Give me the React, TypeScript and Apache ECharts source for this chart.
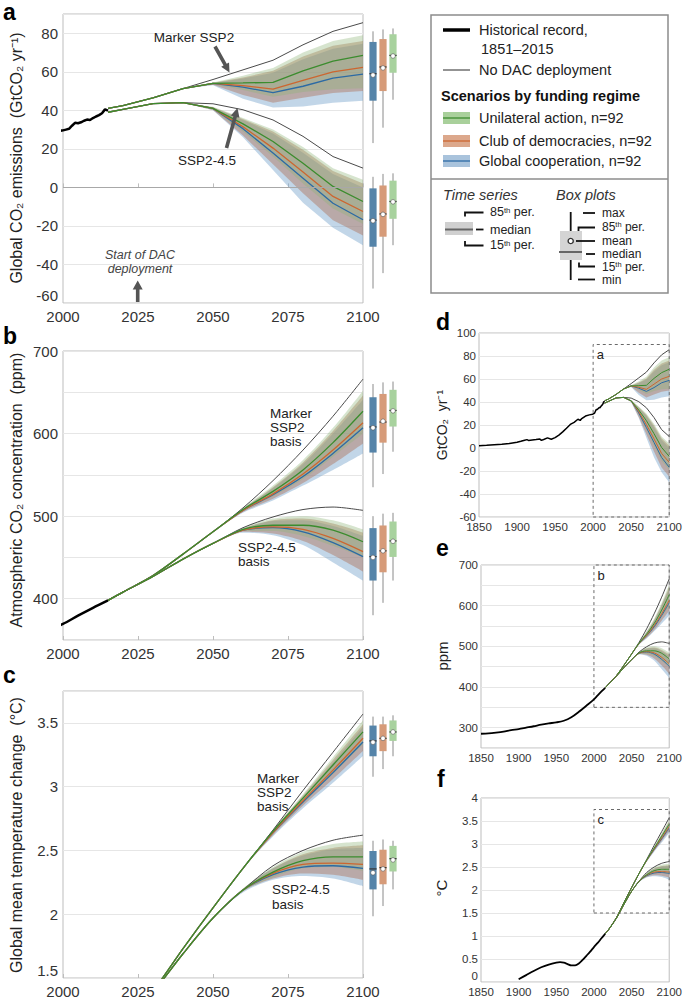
import React, { useEffect, useRef } from 'react';
import * as echarts from 'echarts';

const FONT = '"Liberation Sans", Arial, Helvetica, sans-serif';

// ---------- historical records ----------
const HIST_EM_YEARS = [1850, 1860, 1870, 1880, 1890, 1900, 1905, 1910, 1913, 1915, 1920, 1925, 1930, 1932, 1935, 1940, 1945, 1950, 1955, 1960, 1965, 1970, 1975, 1980, 1983, 1985, 1990, 1995, 1999, 2000, 2001, 2002, 2003, 2004, 2005, 2006, 2007, 2008, 2009, 2010, 2011, 2012, 2013, 2014, 2015];
const HIST_EM = [2.0, 2.3, 2.8, 3.3, 4.0, 5.0, 5.8, 6.8, 7.3, 6.6, 7.0, 7.3, 7.8, 6.6, 7.4, 8.8, 7.6, 9.0, 11.2, 14.0, 17.2, 20.5, 22.3, 25.0, 24.0, 25.6, 27.8, 28.8, 29.4, 29.6, 30.0, 30.4, 32.0, 33.5, 33.3, 33.8, 34.6, 35.2, 35.0, 36.0, 36.8, 37.5, 38.5, 40.5, 39.8];
const HIST_CO2_YEARS = [1850, 1860, 1870, 1880, 1890, 1900, 1910, 1920, 1930, 1940, 1950, 1960, 1970, 1980, 1990, 2000, 2005, 2010, 2015];
const HIST_CO2 = [285, 286, 288, 290.5, 294, 296.5, 300, 303.5, 307.5, 310.5, 313, 317, 325.5, 339, 354, 369.5, 379.5, 389, 398];
const HIST_T_YEARS = [1900, 1910, 1920, 1930, 1940, 1950, 1955, 1960, 1965, 1970, 1975, 1980, 1985, 1990, 1995, 2000, 2005, 2010, 2015];
const HIST_T = [0.06, 0.15, 0.24, 0.32, 0.38, 0.42, 0.43, 0.42, 0.39, 0.36, 0.36, 0.4, 0.48, 0.57, 0.66, 0.76, 0.85, 0.95, 1.05];

// ---------- projections ----------
const PROJ_YEARS = [2015, 2020, 2030, 2040, 2050, 2060, 2070, 2080, 2090, 2100];

// emissions (GtCO2/yr): UP = Marker SSP2, DN = SSP2-4.5
const A_UP_NODAC = [41, 42.5, 46.5, 51.3, 56, 61, 66, 74, 81, 85.5];
const A_DN_NODAC = [39, 40.5, 43.5, 44, 43.4, 40.3, 35, 26.5, 16, 10];
const A_UP_BLUE = [41, 42.5, 46.5, 51.3, 54, 52, 49.2, 52.5, 56.7, 58.8];
const A_UP_ORANGE = [41, 42.5, 46.5, 51.3, 54, 52.8, 51, 55.5, 60, 62.3];
const A_UP_GREEN = [41, 42.5, 46.5, 51.3, 54, 54.2, 54.5, 60.5, 65.5, 68.5];
const A_UP_BLUE_P15 = [41, 42.5, 46.5, 51.3, 53, 46, 41.5, 42, 44, 45];
const A_UP_BLUE_P85 = [41, 42.5, 46.5, 51.3, 54.2, 56.5, 59.5, 66.5, 72, 74.5];
const A_UP_ORANGE_P15 = [41, 42.5, 46.5, 51.3, 53.3, 48, 44, 46.5, 49, 50];
const A_UP_ORANGE_P85 = [41, 42.5, 46.5, 51.3, 54.3, 57, 60.5, 68, 73.5, 76];
const A_UP_GREEN_P15 = [41, 42.5, 46.5, 51.3, 53.5, 50.5, 47, 49.5, 51, 51.5];
const A_UP_GREEN_P85 = [41, 42.5, 46.5, 51.3, 54.5, 58, 62, 70, 76, 79];
const A_DN_BLUE = [39, 40.5, 43.5, 44, 41, 30.5, 17.8, 4.8, -8.2, -16.8];
const A_DN_ORANGE = [39, 40.5, 43.5, 44, 41, 31.5, 20.4, 8, -4.7, -12.5];
const A_DN_GREEN = [39, 40.5, 43.5, 44, 41, 33, 23.8, 12.5, 0.5, -7.3];
const A_DN_BLUE_P15 = [39, 40.5, 43.5, 44, 40, 26, 9, -8, -21, -30];
const A_DN_BLUE_P85 = [39, 40.5, 43.5, 44, 41.5, 35, 28, 18, 7, 0];
const A_DN_ORANGE_P15 = [39, 40.5, 43.5, 44, 40.2, 27, 12, -3, -17, -25];
const A_DN_ORANGE_P85 = [39, 40.5, 43.5, 44, 41.6, 35.5, 29, 19.5, 8.5, 2];
const A_DN_GREEN_P15 = [39, 40.5, 43.5, 44, 40.3, 29, 16, 2, -11, -19];
const A_DN_GREEN_P85 = [39, 40.5, 43.5, 44, 41.8, 36, 30, 21, 10, 4];

// CO2 concentration (ppm)
const B_UP_NODAC = [398, 408, 428, 454, 481, 510, 543, 580, 621, 666];
const B_DN_NODAC = [398, 408, 427, 448, 467, 486, 499, 508, 511, 507];
const B_UP_BLUE = [398, 408, 428, 454, 481, 507, 526, 548, 576, 607];
const B_UP_ORANGE = [398, 408, 428, 454, 481, 507, 527, 551, 580, 613];
const B_UP_GREEN = [398, 408, 428, 454, 481, 508, 530, 556, 589, 627];
const B_UP_BLUE_P15 = [398, 408, 428, 454, 481, 504, 519, 537, 556, 576];
const B_UP_BLUE_P85 = [398, 408, 428, 454, 481, 509, 534, 563, 600, 641];
const B_UP_ORANGE_P15 = [398, 408, 428, 454, 481, 505, 521, 540, 563, 588];
const B_UP_ORANGE_P85 = [398, 408, 428, 454, 481, 509, 535, 565, 603, 646];
const B_UP_GREEN_P15 = [398, 408, 428, 454, 481, 506, 524, 545, 572, 600];
const B_UP_GREEN_P85 = [398, 408, 428, 454, 481, 510, 537, 568, 607, 652];
const B_DN_BLUE = [398, 408, 427, 448, 467, 483, 486, 481, 468, 451];
const B_DN_ORANGE = [398, 408, 427, 448, 467, 483, 487, 484, 473, 457];
const B_DN_GREEN = [398, 408, 427, 448, 467, 484, 489, 489, 483, 469];
const B_DN_BLUE_P15 = [398, 408, 427, 448, 467, 480, 477, 465, 444, 422];
const B_DN_BLUE_P85 = [398, 408, 427, 448, 467, 485, 494, 495, 488, 476];
const B_DN_ORANGE_P15 = [398, 408, 427, 448, 467, 481, 479, 470, 453, 433];
const B_DN_ORANGE_P85 = [398, 408, 427, 448, 467, 485, 495, 497, 491, 480];
const B_DN_GREEN_P15 = [398, 408, 427, 448, 467, 482, 482, 476, 464, 450];
const B_DN_GREEN_P85 = [398, 408, 427, 448, 467, 486, 497, 500, 495, 484];

// temperature change (°C)
const C_UP_NODAC = [1.05, 1.15, 1.4, 1.73, 2.05, 2.36, 2.66, 2.97, 3.27, 3.57];
const C_DN_NODAC = [1.05, 1.15, 1.39, 1.69, 1.97, 2.19, 2.38, 2.5, 2.58, 2.62];
const C_UP_BLUE = [1.05, 1.15, 1.4, 1.73, 2.05, 2.36, 2.64, 2.88, 3.11, 3.35];
const C_UP_ORANGE = [1.05, 1.15, 1.4, 1.73, 2.05, 2.36, 2.64, 2.89, 3.13, 3.38];
const C_UP_GREEN = [1.05, 1.15, 1.4, 1.73, 2.05, 2.36, 2.65, 2.91, 3.17, 3.43];
const C_UP_BLUE_P15 = [1.05, 1.15, 1.4, 1.73, 2.05, 2.36, 2.61, 2.83, 3.03, 3.24];
const C_UP_BLUE_P85 = [1.05, 1.15, 1.4, 1.73, 2.05, 2.36, 2.66, 2.92, 3.19, 3.47];
const C_UP_ORANGE_P15 = [1.05, 1.15, 1.4, 1.73, 2.05, 2.36, 2.62, 2.85, 3.06, 3.28];
const C_UP_ORANGE_P85 = [1.05, 1.15, 1.4, 1.73, 2.05, 2.36, 2.66, 2.93, 3.21, 3.49];
const C_UP_GREEN_P15 = [1.05, 1.15, 1.4, 1.73, 2.05, 2.36, 2.63, 2.87, 3.1, 3.33];
const C_UP_GREEN_P85 = [1.05, 1.15, 1.4, 1.73, 2.05, 2.36, 2.66, 2.94, 3.23, 3.52];
const C_DN_BLUE = [1.05, 1.15, 1.39, 1.69, 1.97, 2.19, 2.31, 2.37, 2.38, 2.36];
const C_DN_ORANGE = [1.05, 1.15, 1.39, 1.69, 1.97, 2.19, 2.32, 2.39, 2.4, 2.39];
const C_DN_GREEN = [1.05, 1.15, 1.39, 1.69, 1.97, 2.19, 2.33, 2.42, 2.45, 2.45];
const C_DN_BLUE_P15 = [1.05, 1.15, 1.39, 1.69, 1.97, 2.17, 2.27, 2.3, 2.28, 2.22];
const C_DN_BLUE_P85 = [1.05, 1.15, 1.39, 1.69, 1.97, 2.2, 2.36, 2.46, 2.51, 2.52];
const C_DN_ORANGE_P15 = [1.05, 1.15, 1.39, 1.69, 1.97, 2.18, 2.28, 2.32, 2.31, 2.27];
const C_DN_ORANGE_P85 = [1.05, 1.15, 1.39, 1.69, 1.97, 2.2, 2.36, 2.47, 2.52, 2.54];
const C_DN_GREEN_P15 = [1.05, 1.15, 1.39, 1.69, 1.97, 2.18, 2.29, 2.36, 2.37, 2.34];
const C_DN_GREEN_P85 = [1.05, 1.15, 1.39, 1.69, 1.97, 2.2, 2.37, 2.49, 2.55, 2.57];

// box plots at 2100: rows blue, orange, green; [min, p15, median, mean, p85, max]
const BOX_A_UP = [[23, 45, 59, 58.3, 75.5, 81], [31, 50, 62.5, 62, 77, 82], [45.5, 59.5, 68.5, 68.2, 79.5, 82.5]];
const BOX_A_DN = [[-52.5, -30.8, -17, -17.3, -0.5, 5.5], [-44.5, -25.6, -13.8, -14, 1, 7], [-30, -16.3, -7.3, -7.5, 3.5, 7.3]];
const BOX_B_UP = [[535, 577, 608, 607, 644, 660], [551, 589, 614, 615, 648, 662], [578, 608.5, 628, 627.5, 653, 663]];
const BOX_B_DN = [[380, 422, 451, 450, 485.5, 500], [395, 432, 458, 458, 488.7, 503], [422, 450.6, 470, 469.6, 493.5, 504]];
const BOX_C_UP = [[3.08, 3.24, 3.36, 3.35, 3.48, 3.55], [3.14, 3.28, 3.38, 3.38, 3.49, 3.55], [3.24, 3.36, 3.43, 3.43, 3.52, 3.56]];
const BOX_C_DN = [[1.99, 2.2, 2.36, 2.33, 2.5, 2.58], [2.07, 2.24, 2.37, 2.36, 2.51, 2.59], [2.2, 2.34, 2.44, 2.43, 2.54, 2.58]];
const BOX_POS = [0.5, 1.5, 2.5];

const SCENARIOS = ['Unilateral action, n=92', 'Club of democracies, n=92', 'Global cooperation, n=92'];

// ---------- styles ----------
const LINE_C = ['#2c6aa4', '#cc6630', '#3b8c2e']; // blue, orange, green
const BAND_C = ['rgba(120,165,205,0.45)', 'rgba(175,115,90,0.45)', 'rgba(140,180,120,0.36)'];
const PATCH_C = ['#a9c3dc', '#dca88c', '#a9d09b'];
const BOX_C = ['#5584a9', '#d69b79', '#a8d29e'];

const pairs = (xs: number[], ys: number[]) => xs.map((x, i) => [x, ys[i]]);
// value-first pairs so that the stack works on the value dimension
const vpairs = (xs: number[], ys: number[]) => xs.map((x, i) => [ys[i], x]);

function bundle(xi: number, tag: string, nodac: number[], meds: number[][], p15: number[][], p85: number[][], smooth: any, lw: number) {
  const out: any[] = [];
  const base = { type: 'line', xAxisIndex: xi, yAxisIndex: xi, symbol: 'none', smooth, silent: true, emphasis: { disabled: true } };
  for (let k = 0; k < 3; k++) {
    const id = tag + '-' + xi + '-' + k;
    const band = { ...base, stack: id, stackStrategy: 'all', encode: { x: 1, y: 0 }, lineStyle: { width: 0, opacity: 0 } };
    out.push({ ...band, data: vpairs(PROJ_YEARS, p15[k]) });
    out.push({ ...band, data: vpairs(PROJ_YEARS, p85[k].map((v, i) => v - p15[k][i])), areaStyle: { color: BAND_C[k], opacity: 1 } });
  }
  out.push({ ...base, data: pairs(PROJ_YEARS, nodac), lineStyle: { color: '#4a4a4a', width: 1 } });
  for (let k = 0; k < 3; k++) {
    out.push({ ...base, data: pairs(PROJ_YEARS, meds[k]), lineStyle: { color: LINE_C[k], width: lw } });
  }
  return out;
}

function boxSeries(xi: number, groups: number[][][]) {
  const data: any[] = [];
  groups.forEach((g) => g.forEach((b, i) => data.push({ value: [BOX_POS[i], ...b], itemStyle: { color: BOX_C[i] } })));
  return {
    type: 'custom', xAxisIndex: xi, yAxisIndex: xi, silent: true, clip: false,
    encode: { x: 0, y: [1, 2, 3, 4, 5, 6] },
    data,
    renderItem: (params: any, api: any) => {
      const x = api.value(0);
      const c = (k: number) => api.coord([x, api.value(k)]);
      const pMin = c(1), p15 = c(2), pMed = c(3), pMean = c(4), p85 = c(5), pMax = c(6);
      const hw = 3.6;
      const color = api.visual('color');
      return {
        type: 'group',
        children: [
          { type: 'line', shape: { x1: pMin[0], y1: pMin[1], x2: pMax[0], y2: pMax[1] }, style: { stroke: '#8a8a8a', lineWidth: 1 } },
          { type: 'rect', shape: { x: p85[0] - hw, y: p85[1], width: 2 * hw, height: p15[1] - p85[1] }, style: { fill: color } },
          { type: 'line', shape: { x1: pMed[0] - hw, y1: pMed[1], x2: pMed[0] + hw, y2: pMed[1] }, style: { stroke: '#333', lineWidth: 1.2 } },
          { type: 'circle', shape: { cx: pMean[0], cy: pMean[1], r: 2.3 }, style: { fill: '#fff', stroke: '#555', lineWidth: 0.6 } },
        ],
      };
    },
  };
}

function histSeries(xi: number, xs: number[], ys: number[], width: number, smooth: any, extra: any = {}) {
  return { type: 'line', xAxisIndex: xi, yAxisIndex: xi, symbol: 'none', smooth, silent: true, data: pairs(xs, ys), lineStyle: { color: '#000', width }, ...extra };
}

function zoomBox(label: string, y0: number, y1: number) {
  return {
    silent: true,
    itemStyle: { color: 'rgba(0,0,0,0)', borderColor: '#6a6a6a', borderWidth: 1, borderType: [3, 3] },
    label: { show: true, position: 'insideTopLeft', formatter: label, color: '#222', fontSize: 13, fontFamily: FONT, distance: 4 },
    data: [[{ xAxis: 2000, yAxis: y0 }, { xAxis: 2100, yAxis: y1 }]],
  };
}

// ---------- graphic helpers ----------
const T = (x: number, y: number, text: string, o: any = {}) => ({
  type: 'text', x, y, z: 20, silent: true,
  style: { text, fill: '#222', fontSize: 14, fontFamily: FONT, align: 'left', verticalAlign: 'middle', ...o },
});
const VT = (x: number, y: number, text: string, size: number) => ({
  type: 'text', x, y, rotation: Math.PI / 2, z: 20, silent: true,
  style: { text, fill: '#222', fontSize: size, fontFamily: FONT, align: 'center', verticalAlign: 'middle' },
});
const L = (x1: number, y1: number, x2: number, y2: number, stroke: string, lineWidth: number) => ({
  type: 'line', z: 20, silent: true, shape: { x1, y1, x2, y2 }, style: { stroke, lineWidth },
});
const PL = (points: number[][], stroke: string, lineWidth: number) => ({
  type: 'polyline', z: 20, silent: true, shape: { points }, style: { stroke, lineWidth, fill: null },
});
function arrow(x1: number, y1: number, x2: number, y2: number, sw = 3.6, hl = 9, hw = 9) {
  const dx = x2 - x1, dy = y2 - y1, len = Math.hypot(dx, dy);
  const ux = dx / len, uy = dy / len, nx = -uy, ny = ux;
  const bx = x2 - ux * hl, by = y2 - uy * hl;
  const pts = [
    [x1 + nx * sw / 2, y1 + ny * sw / 2], [bx + nx * sw / 2, by + ny * sw / 2], [bx + nx * hw / 2, by + ny * hw / 2],
    [x2, y2], [bx - nx * hw / 2, by - ny * hw / 2], [bx - nx * sw / 2, by - ny * sw / 2], [x1 - nx * sw / 2, y1 - ny * sw / 2],
  ];
  return { type: 'polygon', z: 20, silent: true, shape: { points: pts }, style: { fill: '#555' } };
}
const SUP = (x: number, y: number, num: string, rest: string, size: number) => ({
  type: 'text', x, y, z: 20, silent: true,
  style: {
    text: '{n|' + num + '}{s|th}{n|' + rest + '}', align: 'left', verticalAlign: 'middle',
    rich: {
      n: { fontSize: size, fontFamily: FONT, fill: '#222', verticalAlign: 'bottom', lineHeight: size },
      s: { fontSize: size * 0.62, fontFamily: FONT, fill: '#222', verticalAlign: 'top' },
    },
  },
});

const AXC = '#333';
const BORDER = '#bdbdbd';
const plain = (v: number) => String(v);
const mainX = (gi: number) => ({
  type: 'value', gridIndex: gi, min: 2000, max: 2100, interval: 25,
  axisLine: { show: false }, splitLine: { show: false },
  axisTick: { show: true, inside: true, length: 4, lineStyle: { color: BORDER } },
  axisLabel: { fontSize: 15, color: AXC, margin: 6, fontFamily: FONT, formatter: plain },
});
const sideX = (gi: number) => ({
  type: 'value', gridIndex: gi, min: 1850, max: 2100, interval: 50,
  axisLine: { show: false }, splitLine: { show: false }, axisTick: { show: false },
  axisLabel: { fontSize: 11.5, color: AXC, margin: 4, fontFamily: FONT, formatter: plain },
});
const boxX = (gi: number) => ({ type: 'value', gridIndex: gi, min: 0, max: 3, show: false });
const valY = (gi: number, min: number, max: number, interval: number, size: number, margin: number, formatter?: any, showMax = true, liftMin = false) => ({
  type: 'value', gridIndex: gi, min, max, interval,
  axisLine: { show: false }, axisTick: { show: false },
  splitLine: { show: true, lineStyle: { color: '#e6e6e6', width: 1 } },
  axisLabel: {
    fontSize: size, color: AXC, margin, fontFamily: FONT, showMaxLabel: showMax, formatter: formatter || plain,
    ...(liftMin ? { verticalAlignMinLabel: 'bottom' } : {}),
  },
});
const hiddenY = (gi: number, min: number, max: number) => ({ type: 'value', gridIndex: gi, min, max, show: false });
const hundreds = (v: number) => (v % 100 === 0 ? String(v) : '');

function buildOption() {
  const gridFrame = { show: true, borderColor: BORDER, borderWidth: 1, backgroundColor: 'rgba(0,0,0,0)' };
  const grid = [
    { left: 63, top: 14, width: 300, height: 289, ...gridFrame },
    { left: 368, top: 14, width: 30, height: 289 },
    { left: 63, top: 351, width: 300, height: 289, ...gridFrame },
    { left: 368, top: 351, width: 30, height: 289 },
    { left: 63, top: 691, width: 300, height: 288, ...gridFrame },
    { left: 368, top: 691, width: 30, height: 288 },
    { left: 479, top: 333, width: 191, height: 184, ...gridFrame },
    { left: 481, top: 565, width: 191, height: 183, ...gridFrame },
    { left: 481, top: 798, width: 191, height: 184, ...gridFrame },
  ];
  const xAxis = [mainX(0), boxX(1), mainX(2), boxX(3), mainX(4), boxX(5), sideX(6), sideX(7), sideX(8)];
  const yAxis = [
    valY(0, -60, 90, 20, 15, 5, undefined, false, true), hiddenY(1, -60, 90),
    valY(2, 350, 700, 50, 15, 5, hundreds), hiddenY(3, 350, 700),
    valY(4, 1.5, 3.75, 0.5, 15, 5, undefined, false, true), hiddenY(5, 1.5, 3.75),
    valY(6, -60, 100, 20, 11.5, 3), valY(7, 250, 700, 50, 11.5, 3, hundreds), valY(8, 0, 4, 0.5, 11.5, 3, undefined, true, true),
  ];

  const A = (xi: number, sm: any, lw: number) => [
    ...bundle(xi, 'up', A_UP_NODAC, [A_UP_BLUE, A_UP_ORANGE, A_UP_GREEN], [A_UP_BLUE_P15, A_UP_ORANGE_P15, A_UP_GREEN_P15], [A_UP_BLUE_P85, A_UP_ORANGE_P85, A_UP_GREEN_P85], sm, lw),
    ...bundle(xi, 'dn', A_DN_NODAC, [A_DN_BLUE, A_DN_ORANGE, A_DN_GREEN], [A_DN_BLUE_P15, A_DN_ORANGE_P15, A_DN_GREEN_P15], [A_DN_BLUE_P85, A_DN_ORANGE_P85, A_DN_GREEN_P85], sm, lw),
  ];
  const B = (xi: number, sm: any, lw: number) => [
    ...bundle(xi, 'up', B_UP_NODAC, [B_UP_BLUE, B_UP_ORANGE, B_UP_GREEN], [B_UP_BLUE_P15, B_UP_ORANGE_P15, B_UP_GREEN_P15], [B_UP_BLUE_P85, B_UP_ORANGE_P85, B_UP_GREEN_P85], sm, lw),
    ...bundle(xi, 'dn', B_DN_NODAC, [B_DN_BLUE, B_DN_ORANGE, B_DN_GREEN], [B_DN_BLUE_P15, B_DN_ORANGE_P15, B_DN_GREEN_P15], [B_DN_BLUE_P85, B_DN_ORANGE_P85, B_DN_GREEN_P85], sm, lw),
  ];
  const C = (xi: number, sm: any, lw: number) => [
    ...bundle(xi, 'up', C_UP_NODAC, [C_UP_BLUE, C_UP_ORANGE, C_UP_GREEN], [C_UP_BLUE_P15, C_UP_ORANGE_P15, C_UP_GREEN_P15], [C_UP_BLUE_P85, C_UP_ORANGE_P85, C_UP_GREEN_P85], sm, lw),
    ...bundle(xi, 'dn', C_DN_NODAC, [C_DN_BLUE, C_DN_ORANGE, C_DN_GREEN], [C_DN_BLUE_P15, C_DN_ORANGE_P15, C_DN_GREEN_P15], [C_DN_BLUE_P85, C_DN_ORANGE_P85, C_DN_GREEN_P85], sm, lw),
  ];

  const zeroLine = {
    type: 'line', xAxisIndex: 0, yAxisIndex: 0, data: [], silent: true,
    markLine: { silent: true, symbol: ['none', 'none'], label: { show: false }, lineStyle: { color: '#a8a8a8', width: 1, type: 'solid' }, data: [{ yAxis: 0 }] },
  };

  const SM = 0.3;
  const series: any[] = [
    zeroLine,
    ...A(0, false, 1.3),
    histSeries(0, HIST_EM_YEARS, HIST_EM, 2.5, false),
    boxSeries(1, [BOX_A_UP, BOX_A_DN]),
    ...B(2, SM, 1.3),
    histSeries(2, HIST_CO2_YEARS, HIST_CO2, 2.5, SM),
    boxSeries(3, [BOX_B_UP, BOX_B_DN]),
    ...C(4, SM, 1.3),
    histSeries(4, HIST_T_YEARS, HIST_T, 2.5, SM),
    boxSeries(5, [BOX_C_UP, BOX_C_DN]),
    ...A(6, false, 1),
    histSeries(6, HIST_EM_YEARS, HIST_EM, 1.5, false, { markArea: zoomBox('a', -60, 90) }),
    ...B(7, SM, 1),
    histSeries(7, HIST_CO2_YEARS, HIST_CO2, 1.8, SM, { markArea: zoomBox('b', 350, 700) }),
    ...C(8, SM, 1),
    histSeries(8, HIST_T_YEARS, HIST_T, 1.8, SM, { markArea: zoomBox('c', 1.5, 3.75) }),
  ];

  const letter = (t: string, x: number, y: number) => T(x, y, t, { fontSize: 23, fontWeight: 'bold', fill: '#000' });

  const graphic: any[] = [
    letter('a', 3, 11.5), letter('b', 3, 336), letter('c', 3, 675), letter('d', 436, 322), letter('e', 436, 548), letter('f', 437, 779),
    VT(16, 158, 'Global CO₂ emissions  (GtCO₂ yr⁻¹)', 16),
    VT(16, 490, 'Atmospheric CO₂ concentration  (ppm)', 16),
    VT(16, 835, 'Global mean temperature change  (°C)', 16),
    VT(442, 425, 'GtCO₂  yr⁻¹', 14),
    VT(442, 656, 'ppm', 15),
    VT(441, 888, '°C', 15),
    // panel a annotations
    T(194, 37, 'Marker SSP2', { align: 'center', fontSize: 13.5 }),
    arrow(215, 46.5, 229.5, 72.5),
    T(207, 160, 'SSP2-4.5', { align: 'center', fontSize: 13.5 }),
    arrow(226.5, 148, 237.5, 108),
    T(140, 255, 'Start of DAC', { align: 'center', fontSize: 12.5, fontStyle: 'italic', fill: '#444' }),
    T(140, 268.5, 'deployment', { align: 'center', fontSize: 12.5, fontStyle: 'italic', fill: '#444' }),
    arrow(137.7, 302, 137.7, 280.5, 3.6, 9, 10),
    // panel b annotations
    T(270, 413, 'Marker', { fontSize: 13.5 }), T(270, 427, 'SSP2', { fontSize: 13.5 }), T(270, 441, 'basis', { fontSize: 13.5 }),
    T(238, 547, 'SSP2-4.5', { fontSize: 13.5 }), T(238, 561, 'basis', { fontSize: 13.5 }),
    // panel c annotations
    T(257, 778, 'Marker', { fontSize: 13.5 }), T(257, 792, 'SSP2', { fontSize: 13.5 }), T(257, 806, 'basis', { fontSize: 13.5 }),
    T(272, 889, 'SSP2-4.5', { fontSize: 13.5 }), T(272, 904, 'basis', { fontSize: 13.5 }),
    // legend box
    { type: 'rect', z: 15, silent: true, shape: { x: 431, y: 15, width: 237, height: 278 }, style: { fill: '#fff', stroke: '#8c8c8c', lineWidth: 1.5 } },
    L(431, 179, 668, 179, '#8c8c8c', 1.5),
    L(443, 30, 470, 30, '#000', 3.5),
    T(479, 30, 'Historical record,', { fontSize: 14.5 }),
    T(481, 49, '1851–2015', { fontSize: 14.5 }),
    L(443, 70, 470, 70, '#4a4a4a', 1.2),
    T(479, 70, 'No DAC deployment', { fontSize: 14.5 }),
    T(441, 96, 'Scenarios by funding regime', { fontSize: 14.5, fontWeight: 'bold', fill: '#111' }),
  ];
  const legendRows = [{ k: 2, y: 118 }, { k: 1, y: 141 }, { k: 0, y: 161 }];
  legendRows.forEach((r, i) => {
    graphic.push({ type: 'rect', z: 20, silent: true, shape: { x: 443, y: r.y - 6, width: 27, height: 12 }, style: { fill: PATCH_C[r.k] } });
    graphic.push(L(443, r.y, 470, r.y, LINE_C[r.k], 1.3));
    graphic.push(T(479, r.y, SCENARIOS[i], { fontSize: 14.5 }));
  });
  graphic.push(
    T(443, 195, 'Time series', { fontSize: 14.5, fontStyle: 'italic', fill: '#333' }),
    T(556, 195, 'Box plots', { fontSize: 14.5, fontStyle: 'italic', fill: '#333' }),
    // time series key
    { type: 'rect', z: 20, silent: true, shape: { x: 445, y: 222, width: 28, height: 13 }, style: { fill: '#d0d0d0' } },
    L(445, 229.5, 473, 229.5, '#666', 2),
    PL([[465, 216.5], [465, 212.5], [483.5, 212.5]], '#111', 1.8),
    SUP(490, 212.5, '85', ' per.', 12.5),
    L(476, 229.5, 483.5, 229.5, '#111', 1.8),
    T(490, 230, 'median', { fontSize: 12.5 }),
    PL([[465, 241], [465, 245.5], [483.5, 245.5]], '#111', 1.8),
    SUP(490, 245.5, '15', ' per.', 12.5),
    // box plot key
    L(570.7, 212, 570.7, 231, '#111', 1.8),
    L(570.7, 260, 570.7, 280, '#111', 1.8),
    { type: 'rect', z: 20, silent: true, shape: { x: 560, y: 231, width: 22, height: 29 }, style: { fill: '#d4d4d4' } },
    L(559, 252, 582, 252, '#666', 2),
    { type: 'circle', z: 21, silent: true, shape: { cx: 570.7, cy: 241, r: 2.6 }, style: { fill: '#fff', stroke: '#333', lineWidth: 1.4 } },
    L(583, 213, 595, 213, '#111', 1.8),
    T(602, 213, 'max', { fontSize: 12 }),
    PL([[578.5, 231], [578.5, 227.5], [595, 227.5]], '#111', 1.8),
    SUP(602, 227, '85', ' per.', 12),
    L(576, 241, 595, 241, '#111', 1.8),
    T(602, 241, 'mean', { fontSize: 12 }),
    L(586, 254, 595, 254, '#111', 1.8),
    T(602, 253.5, 'median', { fontSize: 12 }),
    PL([[579, 262.5], [579, 266.5], [595, 266.5]], '#111', 1.8),
    SUP(602, 266.5, '15', ' per.', 12),
    L(578, 279.5, 595, 279.5, '#111', 1.8),
    T(602, 279.5, 'min', { fontSize: 12 }),
  );

  return {
    animation: false,
    backgroundColor: '#fff',
    textStyle: { fontFamily: FONT },
    grid, xAxis, yAxis, series, graphic,
  };
}

export default function App() {
  const ref = useRef<HTMLDivElement>(null);
  useEffect(() => {
    if (!ref.current) return;
    const chart = echarts.init(ref.current, null, { renderer: 'svg' });
    chart.setOption(buildOption() as any);
    return () => chart.dispose();
  }, []);
  return <div ref={ref} style={{ position: 'absolute', left: 0, top: 0, width: 685, height: 999 }} />;
}
